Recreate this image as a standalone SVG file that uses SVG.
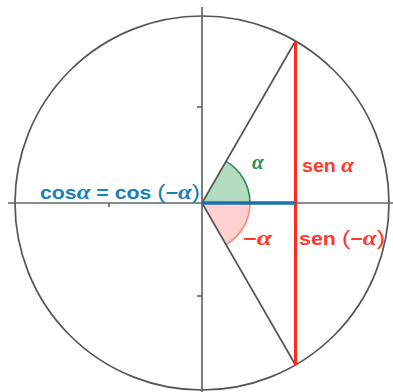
<svg xmlns="http://www.w3.org/2000/svg" width="393" height="392" viewBox="0 0 393 392">
<style>
.ax{stroke:#666;stroke-width:1.7;fill:none}
.gl{stroke:#555;stroke-width:1.7;fill:none}
.t{font-family:"Liberation Sans",Arial,sans-serif;font-weight:bold;font-size:18px}
.g{font-family:"Liberation Serif","DejaVu Serif",serif;font-style:italic;font-weight:bold;font-size:21px}
.p{font-weight:normal;font-size:21px}
</style>
<rect width="393" height="392" fill="#fff"/>
<g id="circle"><circle cx="202" cy="203" r="187" class="gl"/></g>
<g id="axes">
<line x1="8" y1="203" x2="393" y2="203" class="ax"/>
<line x1="202" y1="7" x2="202" y2="392" class="ax"/>
<line x1="197" y1="107" x2="202" y2="107" class="ax"/>
<line x1="197" y1="296" x2="202" y2="296" class="ax"/>
<line x1="109" y1="203" x2="109" y2="207" class="ax"/>
</g>
<g id="sectors">
<path d="M202,203 L250,203 A48,48 0 0 0 226,161.4 Z" fill="#b4dcc0" stroke="none"/>
<path d="M250,203 A48,48 0 0 0 226,161.4" fill="none" stroke="#2e8b57" stroke-width="1.6"/>
<path d="M202,203 L250,203 A48,48 0 0 1 226,244.6 Z" fill="#ffd0d0" stroke="none"/>
<path d="M250,203 A48,48 0 0 1 226,244.6" fill="none" stroke="#ff8a7a" stroke-width="1.6"/>
</g>
<g id="connectors">
<line x1="202" y1="203" x2="295.5" y2="41" class="gl"/>
<line x1="202" y1="203" x2="295.5" y2="365" class="gl"/>
<line x1="295.5" y1="41" x2="295.5" y2="365" stroke="#ff2a1a" stroke-width="3"/>
<line x1="202" y1="203" x2="295.5" y2="203" stroke="#1f6fa8" stroke-width="3.5"/>
</g>
<g id="labels">
<text x="40" y="199" class="t" fill="#1a80b8" textLength="160" lengthAdjust="spacingAndGlyphs">cos<tspan class="g">α</tspan> = cos <tspan class="p">(</tspan>−<tspan class="g">α</tspan><tspan class="p">)</tspan></text>
<text x="252" y="169" class="t" fill="#2e8b57"><tspan class="g">α</tspan></text>
<text x="302" y="172" class="t" fill="#ff3a2a" textLength="52" lengthAdjust="spacingAndGlyphs">sen <tspan class="g">α</tspan></text>
<text x="243" y="245" class="t" fill="#ff3a2a" textLength="29" lengthAdjust="spacingAndGlyphs">−<tspan class="g">α</tspan></text>
<text x="299" y="245" class="t" fill="#ff3a2a" textLength="86" lengthAdjust="spacingAndGlyphs">sen <tspan class="p">(</tspan>−<tspan class="g">α</tspan><tspan class="p">)</tspan></text>
</g>
</svg>
